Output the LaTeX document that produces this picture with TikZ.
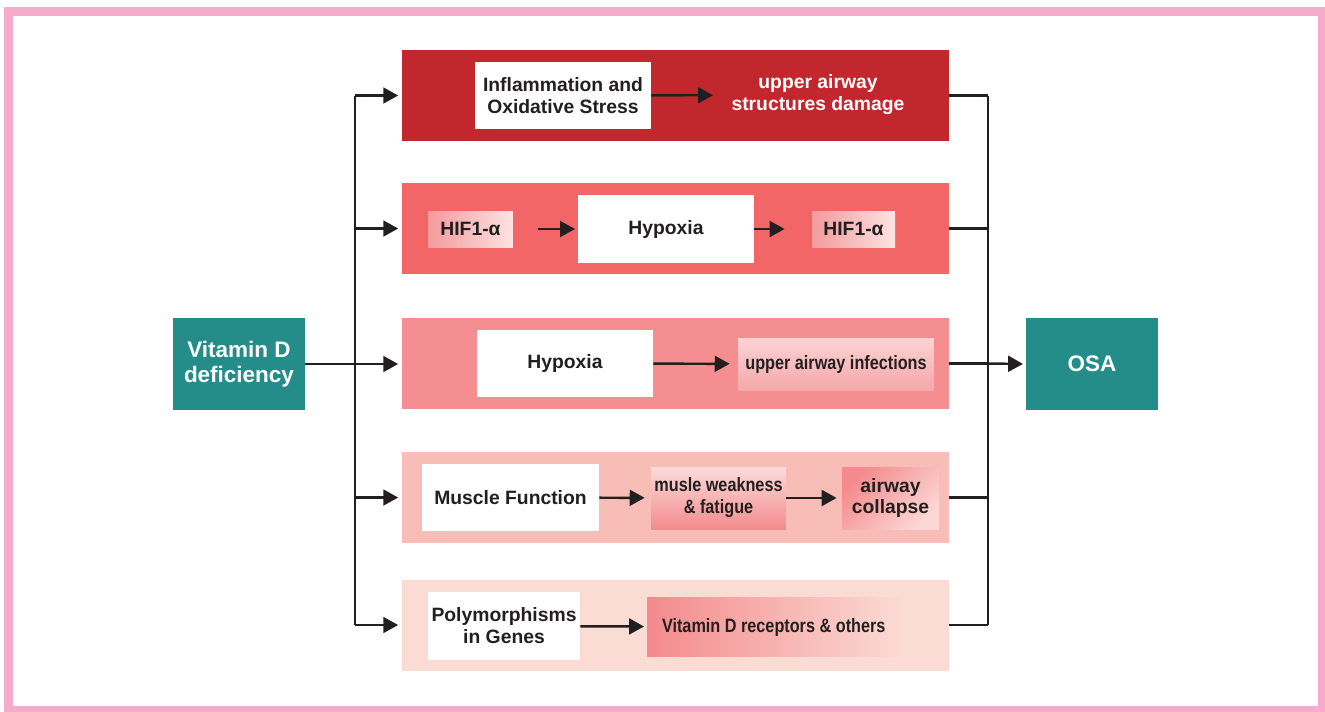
\documentclass[tikz,border=0pt]{standalone}
\usepackage{fontspec}
\setmainfont{Liberation Sans}
\newfontfamily\narrowfont{Liberation Sans}[FakeStretch=0.84]
\usetikzlibrary{arrows.meta,positioning}

\definecolor{framepink}{HTML}{F5ABCB}
\definecolor{vitdteal}{HTML}{248D89}
\definecolor{inktxt}{HTML}{231F20}
\definecolor{bandA}{HTML}{C1272D}
\definecolor{bandB}{HTML}{F26667}
\definecolor{bandC}{HTML}{F58E90}
\definecolor{bandD}{HTML}{F9BDB7}
\definecolor{bandE}{HTML}{FBDCD5}
\definecolor{hifL}{HTML}{F39A9C}
\definecolor{hifR}{HTML}{FCE3E2}
\definecolor{infT}{HTML}{FAD3D3}
\definecolor{infB}{HTML}{F6A8AA}
\definecolor{weakT}{HTML}{FBDBD9}
\definecolor{weakB}{HTML}{F48C8E}
\definecolor{colT}{HTML}{F48A8D}
\definecolor{colB}{HTML}{FBD8D5}

\tikzset{
    band/.style={minimum width=10.94cm, minimum height=1.82cm, inner sep=0pt},
    whitebox/.style={fill=white, text=inktxt, align=center, inner sep=0pt,
        font=\bfseries\fontsize{11}{12.5}\selectfont},
    keybox/.style={fill=vitdteal, text=white, align=center,
        minimum width=2.64cm, minimum height=1.84cm, inner sep=0pt,
        font=\bfseries\fontsize{12.8}{14.5}\selectfont},
    shadebox/.style={text=inktxt, align=center, inner sep=0pt,
        font=\bfseries\fontsize{11}{12.5}\selectfont},
    narrowbox/.style={shadebox, font=\narrowfont\bfseries\fontsize{11}{12.5}\selectfont},
    hifbox/.style={shadebox, left color=hifL, right color=hifR,
        minimum width=1.7cm, minimum height=0.72cm},
    link/.style={draw=inktxt, line width=1.4pt},
    flow/.style={link, ->, shorten >=1.5pt}
}

\begin{document}
\begin{tikzpicture}[x=0.02cm, y=-0.02cm, >={Triangle[length=8.5pt, width=9pt]}]

    \useasboundingbox (0,0) rectangle (1325,711);

    % frame
    \draw[framepink, line width=0.18cm] (8.5,11.5) rectangle (1322.5,710.5);

    % start and end
    \node[keybox] (vitd) at (239,364) {Vitamin D\\deficiency};
    \node[keybox] (osa) at (1092,364) {OSA};

    % bands
    \node[band, fill=bandA] (ox) at (675.5,95.5) {};
    \node[band, fill=bandB] (hif) at (675.5,228.5) {};
    \node[band, fill=bandC] (infect) at (675.5,363.5) {};
    \node[band, fill=bandD] (musc) at (675.5,497.5) {};
    \node[band, fill=bandE] (gene) at (675.5,625) {};

    \coordinate (busL) at (355,0);
    \coordinate (busR) at (988,0);

    % row 1
    \node[whitebox, minimum width=3.52cm, minimum height=1.34cm]
        (stress) at (563,95.5) {Inflammation and\\Oxidative Stress};
    \node[shadebox, text=white, minimum width=4.08cm]
        (damage) at (818,95) {upper airway\\structures damage};
    \draw[flow] (stress) -- (damage);

    % row 2
    \node[hifbox] (hifa) at (470.5,229) {HIF1-α};
    \node[whitebox, minimum width=3.52cm, minimum height=1.36cm]
        (hypa) at (666,229) {Hypoxia};
    \node[hifbox, minimum width=1.66cm] (hifb) at (853.5,229) {HIF1-α};
    \draw[flow, shorten <=0.5cm] (hifa) -- (hypa);
    \draw[flow, shorten >=0.54cm] (hypa) -- (hifb);

    % row 3
    \node[whitebox, minimum width=3.52cm, minimum height=1.34cm]
        (hypb) at (565,363.5) {Hypoxia};
    \node[narrowbox, top color=infT, bottom color=infB,
        minimum width=3.92cm, minimum height=1.04cm]
        (uai) at (836,364) {upper airway infections};
    \draw[flow, shorten >=0.16cm] (hypb) -- (uai);

    % row 4
    \node[whitebox, minimum width=3.54cm, minimum height=1.34cm]
        (muscle) at (510.5,497.5) {Muscle Function};
    \node[narrowbox, top color=weakT, bottom color=weakB,
        minimum width=2.7cm, minimum height=1.24cm]
        (weak) at (718.5,498) {musle weakness\\\& fatigue};
    \node[shadebox, top color=colT, bottom color=colB, shading angle=45,
        minimum width=1.94cm, minimum height=1.24cm]
        (collapse) at (890.5,498) {airway\\collapse};
    \draw[flow, shorten >=0.12cm] (muscle) -- (weak);
    \draw[flow, shorten >=0.1cm] (weak) -- (collapse);

    % row 5
    \node[whitebox, minimum width=3.04cm, minimum height=1.36cm]
        (poly) at (504,626) {Polymorphisms\\in Genes};
    \node[narrowbox, left color=colT, right color=bandE,
        inner xsep=0.3cm, minimum height=1.18cm]
        (vdr) at (776,627) {\makebox[4.56cm][l]{Vitamin D receptors \& others}};
    \draw[flow] (poly) -- (vdr);

    % left bus
    \draw[link] (busL |- ox.west) -- (busL |- gene.west);
    \draw[flow, shorten >=2pt] (vitd.east) -- (vitd.east -| infect.west);
    \foreach \b in {ox,hif,musc,gene}
        \draw[flow, shorten >=2pt] (busL |- \b.west) -- (\b.west);

    % right bus
    \draw[link] (busR |- ox.east) -- (busR |- gene.east);
    \foreach \b in {ox,hif,musc,gene}
        \draw[link] (\b.east) -- (busR |- \b.east);
    \draw[flow] (infect.east -| busR) -- (osa.west);
    \draw[link] (infect.east) -- (busR |- infect.east);

\end{tikzpicture}
\end{document}
